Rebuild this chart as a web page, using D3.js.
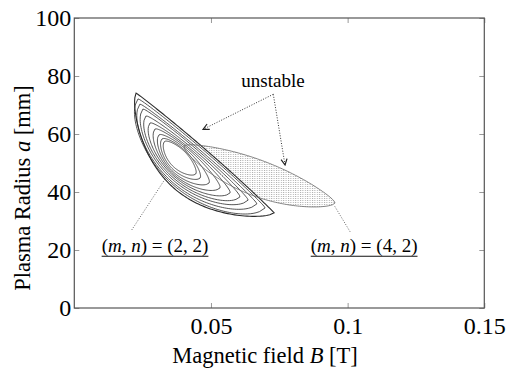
<!DOCTYPE html>
<html>
<head>
<meta charset="utf-8">
<script src="https://cdn.jsdelivr.net/npm/d3@7"></script>
<style>
  body { margin: 0; background: #fff; }
  svg text { font-family: "Liberation Serif", "DejaVu Serif", "Noto Serif", "FreeSerif", "Times New Roman", Times, serif; }
</style>
</head>
<body>
<svg id="chart"></svg>
<script>
// axis ticks
var bTicks = [0.05, 0.1, 0.15];
var aTicks = [0, 20, 40, 60, 80, 100];

// (m,n)=(2,2) nested contours, outer -> inner
// upper-left tip (B, a), lower-right tip (B, a), bulge below / above the tip line [mm]
var c22B1 = [0.0226, 0.0233, 0.0240, 0.0251, 0.0262, 0.0277, 0.0295, 0.0310, 0.0321, 0.0330];
var c22A1 = [74.1, 72.1, 70.3, 68.6, 66.2, 63.8, 61.7, 59.7, 58.3, 57.4];
var c22B2 = [0.0731, 0.0698, 0.0668, 0.0636, 0.0606, 0.0570, 0.0533, 0.0493, 0.0460, 0.0444];
var c22A2 = [32.8, 34.5, 35.9, 37.2, 38.3, 39.7, 41.4, 43.1, 44.8, 46.2];
var c22Low = [16.2, 14.6, 13.2, 11.7, 10.0, 8.4, 7.2, 5.8, 4.6, 3.8];
var c22Up = [1.0, 1.3, 1.4, 1.6, 2.0, 2.4, 2.6, 2.9, 2.9, 2.6];

// (m,n)=(4,2) unstable region
var c42B = [0.0401, 0.0954];
var c42A = [55.9, 36.2];
var c42Low = 7.6, c42Up = 4.8;

// annotations (B, a)
var unstableText = [0.0727, 76.3];
var arrowFrom = [0.0728, 73.7];
var arrowTo = [[0.0471, 61.6], [0.0771, 49.3]];
var labels = [
  {m: "2", n: "2", pos: [0.0100, 19.4], lead: [[0.0210, 26.9], [0.0335, 44.9]]},
  {m: "4", n: "2", pos: [0.0865, 19.4], lead: [[0.1009, 26.3], [0.0950, 35.5]]}
];

var width = 512, height = 370;
var margin = {left: 74.3, right: 27.7, top: 18, bottom: 62};
var serif = "'Liberation Serif', 'DejaVu Serif', 'Noto Serif', FreeSerif, 'Times New Roman', Times, serif";

var svg = d3.select("#chart").attr("width", width).attr("height", height)
  .attr("font-family", serif);

var xScale = d3.scaleLinear().domain([0, 0.15]).range([margin.left, width - margin.right]);
var yScale = d3.scaleLinear().domain([0, 100]).range([height - margin.bottom, margin.top]);

var defs = svg.append("defs");
var pat = defs.append("pattern")
  .attr("id", "stipple")
  .attr("patternUnits", "userSpaceOnUse")
  .attr("width", 2.4).attr("height", 2);
pat.append("rect").attr("width", 1).attr("height", 1).attr("fill", "#aaa");

defs.append("marker")
  .attr("id", "chev")
  .attr("viewBox", "0 0 8 8")
  .attr("refX", 7).attr("refY", 4)
  .attr("markerWidth", 8).attr("markerHeight", 8)
  .attr("markerUnits", "userSpaceOnUse")
  .attr("orient", "auto")
  .append("path")
  .attr("d", "M1,1 L7,4 L1,7")
  .attr("fill", "none")
  .attr("stroke", "#222")
  .attr("stroke-width", 1.2);

// closed lobe between two tips, bulging by low/up (mm) on either side of the tip line
function lobe(b1, a1, b2, a2, low, up, sharp) {
  var p1 = [xScale(b1), yScale(a1)], p2 = [xScale(b2), yScale(a2)];
  var dx = p2[0] - p1[0], dy = p2[1] - p1[1];
  var len = Math.sqrt(dx * dx + dy * dy);
  var u = [dx / len, dy / len], n = [-u[1], u[0]];
  var lowPx = yScale(0) - yScale(low), upPx = yScale(0) - yScale(up);
  var pts = [], N = 90, i, t, h;
  for (i = 0; i <= N; i++) {
    t = i / N; h = Math.pow(Math.sin(Math.PI * t), sharp);
    pts.push([p1[0] + dx * t + n[0] * lowPx * h, p1[1] + dy * t + n[1] * lowPx * h]);
  }
  for (i = N - 1; i > 0; i--) {
    t = i / N; h = Math.pow(Math.sin(Math.PI * t), sharp);
    pts.push([p1[0] + dx * t - n[0] * upPx * h, p1[1] + dy * t - n[1] * upPx * h]);
  }
  return d3.line().curve(d3.curveLinearClosed)(pts);
}
function sharpOf(k) { return k == 0 ? 0.72 : 0.56; }

var g = svg.append("g").classed("plot", true);

var path42 = lobe(c42B[0], c42A[0], c42B[1], c42A[1], c42Low, c42Up, 0.65);
g.append("path").attr("d", path42).attr("fill", "url(#stipple)").attr("stroke", "none");

// white underlay of the (2,2) region
g.append("path")
  .attr("d", lobe(c22B1[0], c22A1[0], c22B2[0], c22A2[0], c22Low[0], c22Up[0], sharpOf(0)))
  .attr("fill", "#fff");

g.selectAll(".c22").data(d3.range(c22B1.length))
  .enter()
  .append("path")
  .classed("c22", true)
  .attr("d", function(k) { return lobe(c22B1[k], c22A1[k], c22B2[k], c22A2[k], c22Low[k], c22Up[k], sharpOf(k)); })
  .attr("fill", "none")
  .attr("stroke", "#2a2a2a")
  .attr("stroke-width", function(k) { return k == 0 ? 1.1 : 0.8; });

g.append("path").attr("d", path42)
  .attr("fill", "none").attr("stroke", "#666").attr("stroke-width", 0.8);

// annotations
g.append("text")
  .attr("x", xScale(unstableText[0])).attr("y", yScale(unstableText[1]))
  .attr("text-anchor", "middle")
  .style("font-size", "19px")
  .text("unstable");

g.selectAll(".arrow").data(arrowTo)
  .enter()
  .append("line")
  .classed("arrow", true)
  .attr("x1", xScale(arrowFrom[0])).attr("y1", yScale(arrowFrom[1]))
  .attr("x2", function(d) { return xScale(d[0]); })
  .attr("y2", function(d) { return yScale(d[1]); })
  .attr("stroke", "#333").attr("stroke-width", 1)
  .attr("stroke-dasharray", "1,1.6")
  .attr("marker-end", "url(#chev)");

g.selectAll(".lead").data(labels)
  .enter()
  .append("line")
  .classed("lead", true)
  .attr("x1", function(d) { return xScale(d.lead[0][0]); })
  .attr("y1", function(d) { return yScale(d.lead[0][1]); })
  .attr("x2", function(d) { return xScale(d.lead[1][0]); })
  .attr("y2", function(d) { return yScale(d.lead[1][1]); })
  .attr("stroke", "#555").attr("stroke-width", 0.9)
  .attr("stroke-dasharray", "1,1.6");

var lab = g.selectAll(".mn-label").data(labels)
  .enter()
  .append("text")
  .classed("mn-label", true)
  .attr("x", function(d) { return xScale(d.pos[0]); })
  .attr("y", function(d) { return yScale(d.pos[1]); })
  .style("font-size", "19px");
lab.append("tspan").text("(");
lab.append("tspan").style("font-style", "italic").text("m");
lab.append("tspan").text(", ");
lab.append("tspan").style("font-style", "italic").text("n");
lab.append("tspan").text(function(d) { return ") = (" + d.m + ", " + d.n + ")"; });

// underline
lab.each(function(d) {
  var bb = this.getBBox();
  g.append("line")
    .attr("x1", bb.x).attr("x2", bb.x + bb.width)
    .attr("y1", yScale(d.pos[1]) + 4.5).attr("y2", yScale(d.pos[1]) + 4.5)
    .attr("stroke", "#111").attr("stroke-width", 1.1);
});

// axes, MATLAB style: box with inward ticks on all sides
var x0 = xScale.range()[0], x1 = xScale.range()[1];
var y0 = yScale.range()[0], y1 = yScale.range()[1];
var tickLen = 5;

var axes = svg.append("g").classed("axes", true);
axes.append("g").attr("transform", "translate(0," + y0 + ")")
  .call(d3.axisBottom(xScale).tickValues(bTicks).tickSize(-tickLen).tickPadding(9).tickFormat(d3.format("~g")));
axes.append("g").attr("transform", "translate(0," + y1 + ")")
  .call(d3.axisTop(xScale).tickValues(bTicks).tickSize(-tickLen).tickFormat(""));
axes.append("g").attr("transform", "translate(" + x0 + ",0)")
  .call(d3.axisLeft(yScale).tickValues(aTicks).tickSize(-tickLen).tickPadding(3));
axes.append("g").attr("transform", "translate(" + x1 + ",0)")
  .call(d3.axisRight(yScale).tickValues(aTicks).tickSize(-tickLen).tickFormat(""));

axes.selectAll(".domain").remove();
axes.selectAll("g").attr("font-family", serif);
axes.selectAll(".tick line").attr("stroke", "#999").attr("stroke-width", 1);
axes.selectAll(".tick text")
  .attr("fill", "#000")
  .style("font-size", "24px");

axes.append("rect")
  .attr("x", x0).attr("y", y1)
  .attr("width", x1 - x0).attr("height", y0 - y1)
  .attr("fill", "none").attr("stroke", "#555").attr("stroke-width", 1.2);

var xl = svg.append("text")
  .attr("x", 265).attr("y", 363)
  .attr("text-anchor", "middle")
  .style("font-size", "22.5px");
xl.append("tspan").text("Magnetic field ");
xl.append("tspan").style("font-style", "italic").text("B");
xl.append("tspan").text(" [T]");

var yl = svg.append("text")
  .attr("transform", "translate(30,188) rotate(-90)")
  .attr("text-anchor", "middle")
  .style("font-size", "22.5px");
yl.append("tspan").text("Plasma Radius ");
yl.append("tspan").style("font-style", "italic").text("a");
yl.append("tspan").text(" [mm]");
</script>
</body>
</html>
